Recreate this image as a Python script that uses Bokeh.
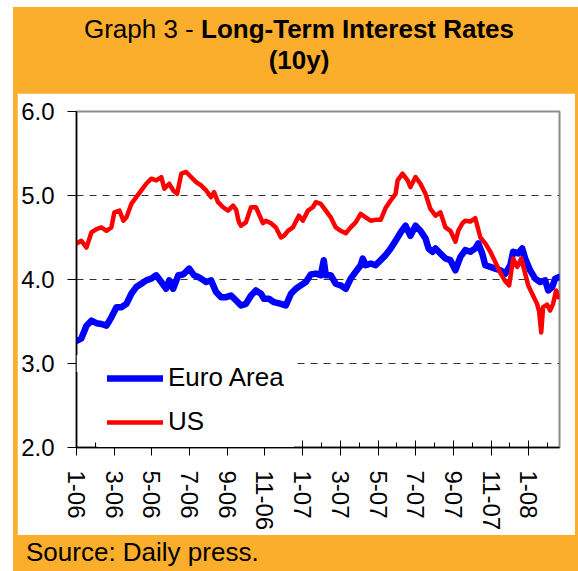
from bokeh.plotting import figure
from bokeh.models import (Div, FixedTicker, Legend, LegendItem, BoxAnnotation, Spacer,
                          GlobalInlineStyleSheet)
from bokeh.layouts import column, row
from bokeh.embed import file_html
from bokeh.resources import INLINE

# ---- data (months since Jan 2006, yield in %) ----
us_t = [0.00, 0.26, 0.53, 0.79, 1.06, 1.32, 1.59, 1.85, 2.01, 2.28, 2.49, 2.65, 2.91, 3.17, 3.44,
        3.70, 3.97, 4.23, 4.50, 4.66, 4.92, 5.13, 5.34, 5.56, 5.82, 6.08, 6.35, 6.61, 6.88, 7.14,
        7.30, 7.51, 7.78, 8.04, 8.31, 8.47, 8.62, 8.73, 8.99, 9.26, 9.52, 9.68, 9.89, 10.05, 10.32,
        10.58, 10.85, 11.01, 11.22, 11.48, 11.80, 12.01, 12.28, 12.54, 12.70, 12.96, 13.23, 13.49,
        13.76, 14.02, 14.29, 14.55, 14.81, 15.08, 15.34, 15.61, 15.87, 16.14, 16.40, 16.67, 16.93,
        17.04, 17.30, 17.57, 17.72, 17.99, 18.25, 18.52, 18.78, 19.05, 19.31, 19.58, 19.84, 20.11,
        20.26, 20.48, 20.63, 20.90, 21.16, 21.43, 21.69, 21.96, 22.22, 22.49, 22.75, 22.96, 23.17,
        23.39, 23.60, 23.81, 23.97, 24.18, 24.44, 24.55, 24.66, 24.76, 24.97, 25.13, 25.29, 25.45,
        25.56]
us_v = [4.43, 4.46, 4.38, 4.56, 4.60, 4.62, 4.58, 4.62, 4.80, 4.82, 4.70, 4.74, 4.90, 4.98, 5.06,
        5.14, 5.20, 5.18, 5.22, 5.08, 5.14, 5.06, 5.02, 5.26, 5.28, 5.22, 5.16, 5.12, 5.06, 4.98,
        5.04, 4.92, 4.86, 4.82, 4.88, 4.83, 4.68, 4.64, 4.68, 4.86, 4.86, 4.78, 4.67, 4.70, 4.67,
        4.62, 4.50, 4.52, 4.58, 4.62, 4.76, 4.70, 4.82, 4.86, 4.92, 4.90, 4.82, 4.74,
        4.62, 4.58, 4.55, 4.62, 4.68, 4.78, 4.74, 4.70, 4.71, 4.71, 4.85, 4.94, 5.02,
        5.18, 5.26, 5.18, 5.10, 5.22, 5.14, 5.02, 4.84, 4.76, 4.80, 4.62, 4.58, 4.45,
        4.58, 4.67, 4.70, 4.69, 4.73, 4.50, 4.43, 4.33, 4.21, 4.08, 3.98, 3.93, 4.25,
        4.15, 4.25, 4.07, 3.93, 3.83, 3.71, 3.62, 3.37, 3.67, 3.70, 3.63, 3.71, 3.87,
        3.79]

eu_t = [0.00, 0.26, 0.53, 0.79, 1.06, 1.32, 1.59, 1.85, 2.12, 2.38, 2.65, 2.91, 3.17, 3.44, 3.70,
        3.97, 4.23, 4.50, 4.76, 4.92, 5.13, 5.40, 5.66, 5.98, 6.24, 6.46, 6.61, 6.88, 7.14, 7.41,
        7.67, 7.94, 8.20, 8.47, 8.73, 8.99, 9.26, 9.52, 9.79, 9.95, 10.21, 10.48, 10.85, 11.11,
        11.38, 11.64, 11.90, 12.17, 12.43, 12.70, 12.96, 13.12, 13.23, 13.49, 13.76, 14.02, 14.29,
        14.55, 14.81, 15.08, 15.19, 15.34, 15.61, 15.87, 16.14, 16.40, 16.67, 16.93, 17.20, 17.46,
        17.72, 17.99, 18.25, 18.52, 18.68, 18.89, 19.05, 19.31, 19.58, 19.84, 20.11, 20.37, 20.63,
        20.90, 21.16, 21.32, 21.53, 21.69, 21.96, 22.22, 22.49, 22.75, 23.02, 23.17, 23.44, 23.65,
        23.81, 24.07, 24.34, 24.60, 24.87, 25.03, 25.24, 25.40, 25.61]
eu_v = [3.27, 3.30, 3.45, 3.51, 3.48, 3.47, 3.45, 3.55, 3.67, 3.67, 3.71, 3.83, 3.91, 3.95, 3.99,
        4.01, 4.05, 3.97, 3.89, 3.99, 3.89, 4.05, 4.06, 4.13, 4.05, 4.03, 4.01, 3.97, 3.99, 3.85,
        3.79, 3.79, 3.81, 3.75, 3.69, 3.71, 3.81, 3.87, 3.83, 3.77, 3.77, 3.73, 3.71, 3.69,
        3.83, 3.89, 3.93, 3.97, 4.06, 4.07, 4.05, 4.23, 4.05, 4.05, 3.95, 3.93, 3.89,
        4.01, 4.09, 4.17, 4.25, 4.17, 4.19, 4.17, 4.23, 4.29, 4.37, 4.46, 4.56, 4.64,
        4.52, 4.64, 4.58, 4.49, 4.37, 4.33, 4.37, 4.31, 4.25, 4.23, 4.11, 4.27, 4.35,
        4.33, 4.37, 4.43, 4.31, 4.17, 4.15, 4.13, 4.11, 4.07, 4.17, 4.33, 4.31, 4.37,
        4.25, 4.11, 4.01, 3.97, 3.99, 3.87, 3.91, 4.01, 4.03]

x_tick_pos = [0, 2, 4, 6, 8, 10, 12, 14, 16, 18, 20, 22, 24]
x_tick_labels = ["1-06", "3-06", "5-06", "7-06", "9-06", "11-06", "1-07", "3-07",
                 "5-07", "7-07", "9-07", "11-07", "1-08"]
y_ticks = [2, 3, 4, 5, 6]
y_tick_labels = ["2.0", "3.0", "4.0", "5.0", "6.0"]

ORANGE = "#FBAE2B"
FONT = "Liberation Sans"

p = figure(frame_width=483, frame_height=336, x_range=(0, 25.63), y_range=(2, 6),
           output_backend="svg", toolbar_location=None,
           min_border_left=59, min_border_right=16, min_border_top=18, min_border_bottom=88,
           background_fill_color="white", border_fill_color="white")

p.outline_line_color = "#8c8c8c"
p.outline_line_width = 2

# grid
p.xgrid.visible = False
p.ygrid.ticker = FixedTicker(ticks=[3, 4, 5])
p.ygrid.grid_line_color = "#333333"
p.ygrid.grid_line_dash = "7 6"
p.ygrid.grid_line_width = 1

# y axis
p.yaxis.ticker = FixedTicker(ticks=y_ticks)
p.yaxis.major_label_overrides = dict(zip(y_ticks, y_tick_labels))
p.yaxis.major_label_text_font = FONT
p.yaxis.major_label_text_font_size = "24px"
p.yaxis.major_label_text_color = "black"
p.yaxis.major_label_standoff = 13
p.yaxis.major_tick_in = 0
p.yaxis.major_tick_out = 9
p.yaxis.minor_tick_in = 0
p.yaxis.minor_tick_out = 0
p.yaxis.axis_line_color = "black"
p.yaxis.axis_line_width = 1.5
p.yaxis.major_tick_line_color = "black"

# x axis
p.xaxis.ticker = FixedTicker(ticks=x_tick_pos, minor_ticks=list(range(0, 26)))
p.xaxis.major_label_overrides = dict(zip(x_tick_pos, x_tick_labels))
p.xaxis.major_label_orientation = "vertical"
p.xaxis.major_label_text_font = FONT
p.xaxis.major_label_text_font_size = "24px"
p.xaxis.major_label_text_color = "black"
p.xaxis.major_label_standoff = 15
p.xaxis.major_tick_in = 7
p.xaxis.major_tick_out = 8
p.xaxis.minor_tick_in = 5
p.xaxis.minor_tick_out = 0
p.xaxis.axis_line_color = "black"
p.xaxis.axis_line_width = 1.5
p.xaxis.major_tick_line_color = "black"
p.xaxis.minor_tick_line_color = "black"

eu = p.line(eu_t, eu_v, line_color="#0000FF", line_width=6.5, line_join="round", line_cap="round")
us = p.line(us_t, us_v, line_color="#FF0000", line_width=4.5, line_join="round", line_cap="round")

mask = BoxAnnotation(left=0, right=1.3, bottom=2.9, top=3.1, fill_color="white", fill_alpha=1,
                     line_alpha=0)
p.add_layout(mask)

legend = Legend(items=[LegendItem(label="Euro Area", renderers=[eu]),
                       LegendItem(label="US", renderers=[us])],
                location=(21, 0), orientation="vertical",
                background_fill_color="white", background_fill_alpha=1,
                border_line_alpha=0, padding=10, margin=0, spacing=13,
                glyph_width=56, glyph_height=26, label_height=26, label_standoff=5,
                label_text_font=FONT, label_text_font_size="26px", label_text_color="black")
p.add_layout(legend)

header = Div(text=(f'<div style="font-family:\'{FONT}\'; font-size:26px; line-height:31px; '
                   'width:565px; box-sizing:border-box; text-align:center; color:#000; '
                   'padding-top:7px; padding-left:7px;">'
                   'Graph 3 - <b>Long-Term Interest Rates</b><br><b>(10y)</b></div>'),
             width=565, height=86, margin=0, styles={"background-color": ORANGE})
footer = Div(text=(f'<div style="font-family:\'{FONT}\'; font-size:26px; line-height:30px; '
                   'color:#000; padding-left:13px; padding-top:2px;">Source: Daily press.</div>'),
             width=565, height=36, margin=0, styles={"background-color": ORANGE})

middle = row(Spacer(width=4, height=442, margin=0, styles={"background-color": ORANGE}), p,
             Spacer(width=3, height=442, margin=0, styles={"background-color": ORANGE}),
             spacing=0, margin=0)
inner = column(header, middle, footer, spacing=0, margin=0,
               styles={"background-color": ORANGE})
layout = column(Spacer(width=10, height=7, margin=0),
                row(Spacer(width=13, height=10, margin=0), inner, spacing=0, margin=0),
                spacing=0, margin=0,
                stylesheets=[GlobalInlineStyleSheet(css="html, body { overflow: hidden; }")])

open("out.html", "w").write(file_html(layout, INLINE))
